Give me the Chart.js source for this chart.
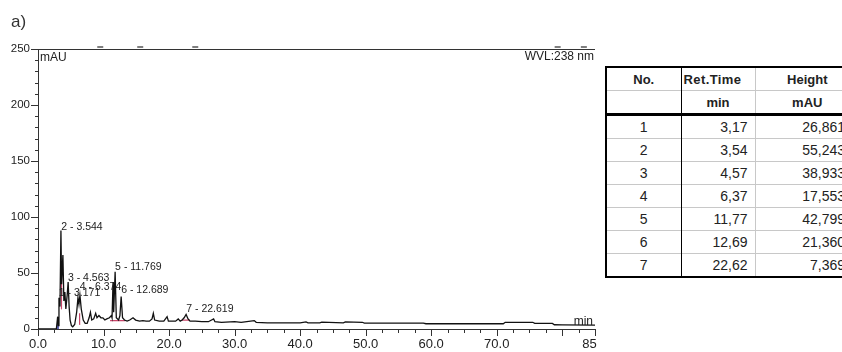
<!DOCTYPE html>
<html>
<head>
<meta charset="utf-8">
<script src="https://cdn.jsdelivr.net/npm/chart.js@4/dist/chart.umd.min.js"></script>
<style>
  html, body { margin: 0; padding: 0; background: #fff; }
  body { width: 842px; height: 352px; overflow: hidden; position: relative; }
  #plot { position: absolute; left: 0; top: 0; }
  #tag { position: absolute; left: 11px; top: 12px; font: 17px 'Liberation Sans', Arial, sans-serif; color: #333; }
  #peaks {
    position: absolute; left: 605px; top: 66px; width: 254px;
    border-collapse: collapse; table-layout: fixed;
    border: 2.5px solid #000;
    font-family: 'Liberation Sans', Arial, sans-serif; color: #222;
  }
  #peaks td { padding: 0 3px; height: 22px; border-top: 1px solid #c8c8c8; font-size: 14px; white-space: nowrap; overflow: hidden; }
  #peaks td.c1 { border-right: 1.5px solid #000; text-align: center; }
  #peaks td.c2 { border-right: 1px solid #c8c8c8; text-align: right; padding-right: 7px; }
  #peaks td.c3 { text-align: right; padding-right: 14px; }
  #peaks tr.h td { font-weight: bold; font-size: 13px; text-align: center; padding-right: 3px; }
  #peaks tr.h td.rt { text-align: left; padding-left: 2px; letter-spacing: 0.4px; }
  #peaks tr.h2 td { border-bottom: 3px solid #000; }
</style>
</head>
<body>
<canvas id="plot" width="597" height="352"></canvas>
<div id="tag">a)</div>
<table id="peaks">
  <colgroup><col style="width:75px"><col style="width:74px"><col style="width:105px"></colgroup>
  <tbody id="peakBody"></tbody>
</table>
<script>
// chromatogram trace (retention time in min, signal in mAU)
const traceTime = [0, 2.8, 3.0, 3.1, 3.2, 3.35, 3.5, 3.6, 3.8, 3.95, 4.1, 4.25, 4.45, 4.6, 4.75, 4.9, 5.1, 5.3, 5.6, 5.9,
  6.1, 6.25, 6.4, 6.6, 6.9, 7.2, 7.5, 7.8, 8.0, 8.2, 8.5, 8.8, 9.0, 9.3, 9.6, 9.9, 10.2, 10.5, 10.9, 11.2,
  11.3, 11.45, 11.55, 11.77, 11.95, 12.3, 12.5, 12.69, 12.9, 13.2, 13.6, 14.0, 14.5, 14.9, 15.5, 16.0, 16.5, 17.0, 17.4, 17.6,
  17.8, 18.5, 19.2, 19.7, 19.9, 20.5, 21.0, 21.4, 21.7, 22.0, 22.3, 22.6, 22.9, 23.2, 24.0, 25.0, 26.0, 26.8, 27.0, 28.0,
  30.0, 31.0, 33.0, 33.3, 35.0, 37.0, 40.0, 40.9, 41.2, 43.0, 43.3, 46.6, 46.9, 49.5, 49.8, 55.0, 58.8, 59.2, 65.0, 71.0,
  71.3, 75.5, 75.8, 78.5, 78.8, 80.0, 85.0];
const traceSignal = [0, 0, 11, 3, 28, 20, 88, 40, 66, 25, 33, 18, 30, 42, 20, 8, 3, 2, 4, 15,
  28, 22, 30, 18, 8, 5, 5, 10, 15, 8, 9, 14, 10, 12, 10, 10, 8, 9, 10, 12,
  10, 42, 15, 51, 10, 8, 12, 29, 10, 8, 7, 8, 10, 8, 7, 7.5, 7, 7, 9, 14,
  8, 7, 7, 11, 7, 7, 7, 9, 7, 8, 10, 13, 9, 7, 7, 6.5, 6.5, 9, 6.5, 6,
  6.5, 6, 7.5, 6, 5.5, 5.5, 5.5, 6.3, 5.5, 5.5, 6.2, 5.5, 6.3, 6, 5.2, 5.2, 5.3, 4.7, 4.7, 4.7,
  6, 6, 5, 5, 3.8, 3.6, 3.4];

// integration marks drawn under the peaks
const redMarkTime = [3.55, 3.58, null, 6.3, 6.35, null, 11.0, 13.3, null, 21.9, 23.2];
const redMarkSignal = [18, 50, null, 4, 14, null, 7.5, 7.5, null, 8, 8];
const blueMarkTime = [2.95, 3.05];
const blueMarkSignal = [0, 10];

// event dashes sitting on the top frame line (min)
const eventTime = [9.5, 15.6, 24.0, 79.3, 83.3];

// peak annotations
const peakLabels = ['1 - 3.171', '2 - 3.544', '3 - 4.563', '4 - 6.374', '5 - 11.769', '6 - 12.689', '7 - 22.619'];
const peakLabelTime = [3.171, 3.544, 4.563, 6.374, 11.769, 12.689, 22.619];
const peakLabelLevel = [32, 91, 45, 37, 55, 35, 18];

// axis ticks
const xTickValues = [0, 10, 20, 30, 40, 50, 60, 70, 85];
const yTickValues = [0, 50, 100, 150, 200, 250];

// peak table
const peakNo = [1, 2, 3, 4, 5, 6, 7];
const retTime = [3.17, 3.54, 4.57, 6.37, 11.77, 12.69, 22.62];
const peakHeight = [26.861, 55.243, 38.933, 17.553, 42.799, 21.360, 7.369];

const fmt = (v, d) => v.toFixed(d).replace('.', ',');

let rows = '<tr class="h"><td class="c1">No.</td><td class="c2 rt">Ret.Time</td><td class="c3">Height</td></tr>' +
  '<tr class="h h2"><td class="c1"></td><td class="c2">min</td><td class="c3">mAU</td></tr>';
peakNo.forEach((n, i) => {
  rows += '<tr><td class="c1">' + n + '</td><td class="c2">' + fmt(retTime[i], 2) +
    '</td><td class="c3">' + fmt(peakHeight[i], 3) + '</td></tr>';
});
document.getElementById('peakBody').innerHTML = rows;

const toPoints = (xs, ys) => xs.map((x, i) => (x === null ? { x: null, y: null } : { x: x, y: ys[i] }));

const ink = '#222';
const font = 'Liberation Sans, Arial, sans-serif';

const decorations = {
  id: 'decorations',
  afterDraw(chart) {
    const ctx = chart.ctx;
    const xs = chart.scales.x;
    const ys = chart.scales.y;
    const left = chart.chartArea.left;
    const bottom = chart.chartArea.bottom;
    ctx.save();
    ctx.strokeStyle = '#333';
    ctx.lineWidth = 1;
    // y ticks every 10 mAU, long on labelled ones
    for (let v = 0; v <= 250; v += 10) {
      const py = Math.round(ys.getPixelForValue(v)) + 0.5;
      const len = v % 50 === 0 ? 7 : 3;
      ctx.beginPath(); ctx.moveTo(left - len, py); ctx.lineTo(left, py); ctx.stroke();
    }
    // x ticks every 2.5 min
    for (let t = 0; t <= 85; t += 2.5) {
      const px = Math.round(xs.getPixelForValue(t)) + 0.5;
      const len = t % 10 === 0 || t === 85 ? 7 : 4;
      ctx.beginPath(); ctx.moveTo(px, bottom); ctx.lineTo(px, bottom + len); ctx.stroke();
    }
    // top frame line with its event dashes
    const topY = Math.round(ys.getPixelForValue(250)) + 0.5;
    ctx.beginPath(); ctx.moveTo(left - 7, topY); ctx.lineTo(xs.getPixelForValue(85), topY); ctx.stroke();
    ctx.strokeStyle = '#555';
    ctx.lineWidth = 1.5;
    eventTime.forEach((t) => {
      const px = xs.getPixelForValue(t);
      ctx.beginPath(); ctx.moveTo(px - 3, topY - 2.5); ctx.lineTo(px + 3, topY - 2.5); ctx.stroke();
    });

    ctx.fillStyle = ink;
    ctx.font = '12px ' + font;
    ctx.textBaseline = 'middle';
    ctx.textAlign = 'left';
    ctx.fillText('mAU', left + 2, topY + 8);
    ctx.textAlign = 'right';
    ctx.fillText('WVL:238 nm', xs.getPixelForValue(85) - 1, topY + 7);
    ctx.fillText('min', xs.getPixelForValue(85) - 2, bottom - 7);

    ctx.font = '10.5px ' + font;
    ctx.textAlign = 'left';
    peakLabels.forEach((txt, i) => {
      ctx.fillText(txt, xs.getPixelForValue(peakLabelTime[i]), ys.getPixelForValue(peakLabelLevel[i]));
    });
    ctx.restore();
  }
};

new Chart(document.getElementById('plot'), {
  type: 'line',
  data: {
    datasets: [
      { data: toPoints(traceTime, traceSignal), borderColor: '#111', borderWidth: 1.3, pointRadius: 0, tension: 0 },
      { data: toPoints(redMarkTime, redMarkSignal), borderColor: '#c8466a', borderWidth: 1.2, pointRadius: 0, spanGaps: false },
      { data: toPoints(blueMarkTime, blueMarkSignal), borderColor: '#2a2f9a', borderWidth: 1.5, pointRadius: 0 }
    ]
  },
  options: {
    responsive: false,
    animation: false,
    layout: { padding: { top: 49, right: 2, left: 0, bottom: 0 } },
    plugins: { legend: { display: false }, tooltip: { enabled: false } },
    scales: {
      x: {
        type: 'linear', min: 0, max: 85,
        afterBuildTicks: (s) => { s.ticks = xTickValues.map((v) => ({ value: v })); },
        afterFit: (s) => { s.height = 23; s.paddingLeft = 0; s.paddingRight = 0; },
        ticks: { autoSkip: false, maxRotation: 0, padding: 1, color: ink, font: { family: font, size: 13 }, callback: (v) => Number(v).toFixed(1) },
        grid: { drawOnChartArea: false, color: 'rgba(0,0,0,0)', tickLength: 7 },
        border: { color: '#333', width: 1 }
      },
      y: {
        min: 0, max: 250,
        afterBuildTicks: (s) => { s.ticks = yTickValues.map((v) => ({ value: v })); },
        afterFit: (s) => { s.width = 38; s.paddingTop = 0; s.paddingBottom = 0; },
        ticks: { padding: 1, color: ink, font: { family: font, size: 11.5 } },
        grid: { drawOnChartArea: false, color: 'rgba(0,0,0,0)', tickLength: 7 },
        border: { color: '#333', width: 1 }
      }
    }
  },
  plugins: [decorations]
});
</script>
</body>
</html>
